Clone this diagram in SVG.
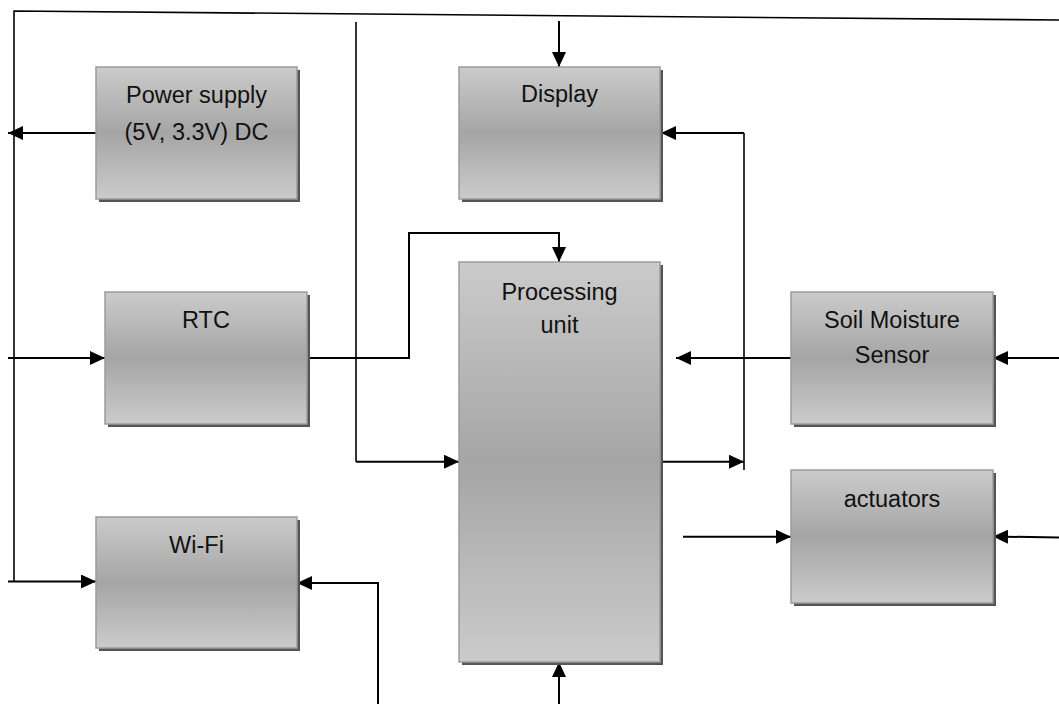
<svg xmlns="http://www.w3.org/2000/svg" width="1059" height="704" viewBox="0 0 1059 704">
<style>
.box{fill:url(#g);stroke:#9c9c9c;stroke-width:1.5}
.sh{fill:#555}
.t{font-family:"Liberation Sans",Arial,sans-serif;font-size:23.5px;fill:#111;text-anchor:middle}
.c{fill:none;stroke:#000;stroke-width:1.6}
.a{fill:none;stroke:#000;stroke-width:2;marker-end:url(#ah)}
</style>
<defs>
<linearGradient id="g" x1="0" y1="0" x2="0" y2="1">
<stop offset="0" stop-color="#cbcbcb"/>
<stop offset="0.5" stop-color="#a5a5a5"/>
<stop offset="1" stop-color="#cbcbcb"/>
</linearGradient>
<marker id="ah" markerUnits="userSpaceOnUse" markerWidth="16" markerHeight="15" refX="15" refY="7" orient="auto">
<path d="M0,0 L15,7 L0,14 z" fill="#000"/>
</marker>
</defs>
<rect width="1059" height="704" fill="#fff"/>
<g id="connectors">
<path class="c" d="M1059,20 L14,11 L14,581.5"/>
<path class="c" d="M356,22 L356,461.7"/>
<path class="c" d="M744,470 L744,133"/>
<path class="a" d="M96,133 L8,133"/>
<path class="a" d="M8,358 L105,358"/>
<path class="a" d="M8,581.5 L96,581.5"/>
<path class="a" d="M307,358 L409,358 L409,233 L559,233 L559,262"/>
<path class="a" d="M356,461.7 L459,461.7"/>
<path class="a" d="M559,21 L559,67"/>
<path class="a" d="M660,461.7 L744,461.7"/>
<path class="a" d="M744,133 L661,133"/>
<path class="a" d="M791,358 L676,358"/>
<path class="a" d="M1059,358 L993,358"/>
<path class="a" d="M683,536.7 L791,536.7"/>
<path class="a" d="M1059,537.5 L993,536.5"/>
<path class="a" d="M378,704 L378,583 L297,583"/>
<path class="a" d="M559,704 L559,662"/>
</g>
<g id="power">
<rect class="sh" x="99" y="70" width="201" height="132"/>
<rect class="box" x="96" y="67" width="201" height="132"/>
<text class="t" x="196.5" y="103">Power supply</text>
<text class="t" x="196.5" y="140">(5V, 3.3V) DC</text>
</g>
<g id="display">
<rect class="sh" x="462" y="70" width="201" height="132"/>
<rect class="box" x="459" y="67" width="201" height="132"/>
<text class="t" x="559.5" y="102">Display</text>
</g>
<g id="rtc">
<rect class="sh" x="108" y="295" width="202" height="132"/>
<rect class="box" x="105" y="292" width="202" height="132"/>
<text class="t" x="206" y="328">RTC</text>
</g>
<g id="processing">
<rect class="sh" x="462" y="265" width="201" height="400"/>
<rect class="box" x="459" y="262" width="201" height="400"/>
<text class="t" x="559.5" y="300">Processing</text>
<text class="t" x="559.5" y="333">unit</text>
</g>
<g id="soil">
<rect class="sh" x="794" y="295" width="202" height="132"/>
<rect class="box" x="791" y="292" width="202" height="132"/>
<text class="t" x="892" y="328">Soil Moisture</text>
<text class="t" x="892" y="363">Sensor</text>
</g>
<g id="actuators">
<rect class="sh" x="794" y="473" width="202" height="133"/>
<rect class="box" x="791" y="470" width="202" height="133"/>
<text class="t" x="892" y="507">actuators</text>
</g>
<g id="wifi">
<rect class="sh" x="99" y="520" width="201" height="131"/>
<rect class="box" x="96" y="517" width="201" height="131"/>
<text class="t" x="196.5" y="553">Wi-Fi</text>
</g>
</svg>
